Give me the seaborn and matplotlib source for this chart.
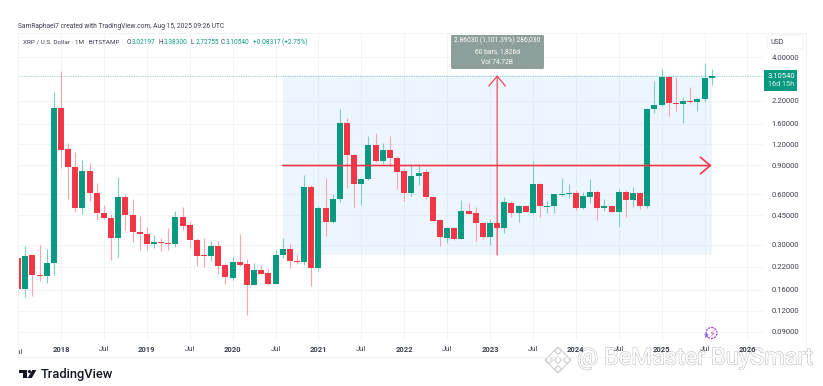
import numpy as np
import pandas as pd
import matplotlib
matplotlib.use("Agg")
import matplotlib.pyplot as plt
import seaborn as sns
from matplotlib.patches import Rectangle, FancyBboxPatch, Polygon, Circle
from matplotlib.ticker import NullLocator
from matplotlib.transforms import Bbox, blended_transform_factory
import matplotlib.patheffects as pe

# months counted from Jan 2018, first bar is Jul 2017
months = list(range(-6, 92))

open_prices = [
    .248, .162, .258, .197, .195, .233,
    1.98, 1.12, .88, .496, .83, .609, .462, .433, .33, .579, .45, .356,
    .347, .303, .311, .307, .304, .438, .391, .319, .258, .256, .296, .225,
    .19, .236, .228, .172, .21, .201, .174, .258, .281, .24, .236, .663,
    .2175, .496, .411, .566, 1.605, 1.04, .696, .744, 1.184, .949, 1.11, .994,
    .827, .609, .775, .819, .579, .421, .33, .377, .326, .477, .464, .405,
    .333, .405, .376, .531, .466, .512, .466, .696, .507, .51, .595, .604,
    .615, .50, .581, .623, .498, .512, .473, .623, .558, .609, .51, 1.948,
    2.068, 3.03, 2.134, 2.088, 2.186, 2.165, 2.238, 3.022,
]
high_prices = [
    .25, .294, .26, .297, .281, 2.48,
    3.31, 1.22, 1.08, .966, .923, .70, .519, .458, .761, .604, .563, .447,
    .381, .342, .328, .378, .479, .503, .415, .327, .327, .316, .316, .231,
    .252, .347, .245, .233, .225, .2125, .278, .327, .303, .263, .786, .684,
    .51, .751, .604, 1.95, 1.735, 1.05, .75, 1.346, 1.397, 1.227, 1.346, 1.02,
    .862, .914, .914, .849, .585, .425, .38, .38, .556, .531, .507, .41,
    .43, .41, .582, .548, .52, .515, .95, .70, .55, .605, .751, .694,
    .635, .623, .744, .638, .563, .515, .647, .638, .665, .623, 1.97, 2.89,
    3.40, 3.05, 3.03, 2.32, 2.64, 2.32, 3.68, 3.383,
]
low_prices = [
    .162, .146, .147, .182, .177, .197,
    .869, .561, .473, .456, .548, .421, .425, .242, .254, .367, .31, .278,
    .278, .285, .275, .278, .289, .367, .285, .224, .221, .24, .20, .174,
    .184, .223, .113, .171, .199, .172, .173, .25, .2175, .229, .227, .169,
    .208, .339, .405, .543, .654, .507, .519, .735, .94, .923, .889, .647,
    .546, .59, .684, .563, .413, .292, .306, .32, .322, .455, .316, .324,
    .299, .372, .35, .437, .408, .47, .46, .437, .462, .462, .59, .575,
    .484, .489, .536, .421, .477, .462, .384, .437, .503, .489, .496, 1.843,
    2.05, 1.776, 1.903, 1.605, 2.088, 1.903, 2.165, 2.728,
]
close_prices = [
    .162, .257, .198, .195, .233, 1.98,
    1.11, .88, .496, .83, .609, .466, .433, .33, .579, .45, .356, .347,
    .303, .311, .308, .304, .438, .387, .319, .256, .256, .296, .223, .191,
    .236, .226, .172, .2115, .2, .174, .258, .281, .24, .236, .663, .2175,
    .496, .411, .566, 1.605, 1.036, .696, .744, 1.184, .949, 1.11, .994, .819,
    .609, .778, .808, .579, .417, .332, .377, .326, .477, .458, .405, .333,
    .405, .376, .539, .466, .512, .473, .694, .51, .514, .601, .604, .615,
    .50, .587, .623, .498, .512, .473, .623, .558, .609, .51, 1.948, 2.068,
    3.03, 2.134, 2.088, 2.186, 2.165, 2.238, 3.02, 3.105,
]

price_ticks = [4.0, 2.2, 1.6, 1.2, 0.9, 0.6, 0.45, 0.3, 0.22, 0.16, 0.12, 0.09]
jul_ticks = [6, 18, 30, 42, 54, 66, 78, 90]
year_ticks = [0, 12, 24, 36, 48, 60, 72, 84, 96]
year_labels = ["2018", "2019", "2020", "2021", "2022", "2023", "2024", "2025", "2026"]

last_price = 3.1054
range_low, range_high = 0.2597, 3.12
range_start, range_end = 31, 91
mid_price = 0.895
mid_month = 61

GREEN = "#089981"
RED = "#f23645"
GREEN_WICK = "#7fcdbf"
RED_WICK = "#f9a5ad"
GREY_TEXT = "#3a3f4b"
W, H = 823, 386

sns.set_theme(style="white")
plt.rcParams["font.family"] = ["Roboto", "DejaVu Sans"]

df = pd.DataFrame({"month": months, "o": open_prices, "h": high_prices,
                   "l": low_prices, "c": close_prices})
df["dir"] = np.where(df["c"] >= df["o"], "up", "down")

# long tables, one line per candle
wicks = df.melt(id_vars=["month", "dir"], value_vars=["h", "l"], value_name="price")
bodies = df.melt(id_vars=["month", "dir"], value_vars=["o", "c"], value_name="price")

fig = plt.figure(figsize=(W / 100, H / 100), dpi=100, facecolor="white")

# watermark goes under the chart, its time labels stay readable on top of it
wm = fig.add_axes([0, 0, 1, 1], zorder=0)
wm.set_xlim(0, W)
wm.set_ylim(H, 0)
wm.axis("off")
outline = [pe.withStroke(linewidth=0.8, foreground="#bdbdbd")]
wm.text(577, 358, "@ BeMaster BuySmart", fontsize=17, color="white", va="center", ha="left",
        path_effects=outline)
for cx, cy, r in [(558, 360, 13), (558, 351, 3.5), (558, 369, 3.5), (549, 360, 3.5), (567, 360, 3.5), (558, 360, 3.5)]:
    wm.add_patch(Polygon([(cx, cy - r), (cx + r, cy), (cx, cy + r), (cx - r, cy)],
                         facecolor="white", edgecolor="#cfcfcf", lw=0.8))

ax = fig.add_axes([18.5 / W, 1 - 341 / H, (763 - 18.5) / W, (341 - 33) / H], zorder=5)
ax.set_yscale("log")

sns.lineplot(data=wicks, x="month", y="price", hue="dir", units="month", estimator=None,
             palette={"up": GREEN_WICK, "down": RED_WICK}, legend=False, ax=ax,
             linewidth=0.8, solid_capstyle="butt", zorder=3)
sns.lineplot(data=bodies, x="month", y="price", hue="dir", units="month", estimator=None,
             palette={"up": GREEN, "down": RED}, legend=False, ax=ax,
             linewidth=4.3, solid_capstyle="butt", zorder=4)

ax.set_xlim(-5.944, 98.18)
ax.set_ylim(0.079, 5.598)
ax.set_xlabel("")
ax.set_ylabel("")
for s in ax.spines.values():
    s.set_visible(False)

ax.yaxis.tick_right()
ax.set_yticks(price_ticks, labels=[f"{p:.5f}" for p in price_ticks])
ax.yaxis.set_minor_locator(NullLocator())
ax.tick_params(axis="y", length=0, pad=6, labelsize=5.5, labelcolor=GREY_TEXT)
ax.set_xticks(jul_ticks + year_ticks,
              labels=["Jul"] * len(jul_ticks) + year_labels)
ax.tick_params(axis="x", length=0, pad=3.5, labelsize=5.5, labelcolor=GREY_TEXT)
for lab in ax.get_xticklabels():
    if lab.get_text() != "Jul":
        lab.set_fontweight("bold")
ax.grid(True, color="#f3f4f6", linewidth=0.7)
ax.set_axisbelow(True)

# first Jul label is cut by the pane edge
first = ax.text(-6, -0.025, "Jul", fontsize=5.5, color=GREY_TEXT, ha="center", va="top",
                transform=blended_transform_factory(ax.transData, ax.transAxes))
first.set_clip_on(True)
first.set_clip_box(Bbox([[18.5, 0], [W, H]]))

# price range tool
ax.add_patch(Rectangle((range_start, range_low), range_end - range_start, range_high - range_low,
                       facecolor="#2196f3", alpha=0.08, edgecolor="none", zorder=1))
ax.axhline(last_price, color=GREEN, linestyle=(0, (1, 1.4)), linewidth=0.7, alpha=0.5, zorder=2)
ax.annotate("", xy=(range_end, mid_price), xytext=(range_start, mid_price), zorder=5,
            arrowprops=dict(arrowstyle="->,head_length=0.9,head_width=0.75", color=RED, lw=1.2,
                            mutation_scale=8, shrinkA=0, shrinkB=0))
ax.annotate("", xy=(mid_month, range_high), xytext=(mid_month, range_low), zorder=5,
            arrowprops=dict(arrowstyle="->,head_length=0.9,head_width=0.75", color=RED, lw=0.8,
                            mutation_scale=8, shrinkA=0, shrinkB=0))

# everything around the chart is placed in pixels
ov = fig.add_axes([0, 0, 1, 1], zorder=10)
ov.set_xlim(0, W)
ov.set_ylim(H, 0)
ov.axis("off")
ov.patch.set_alpha(0)

# pane outline
ov.add_patch(Rectangle((18.5, 33), 806.5 - 18.5, 357 - 33, fill=False, edgecolor="#f1f2f4", lw=0.7))

ov.text(18.5, 27, "SamRaphael7 created with TradingView.com, Aug 15, 2025 09:26 UTC",
        fontsize=4.75, color=GREY_TEXT, va="center")
ov.text(23, 42, "XRP / U.S. Dollar \u00b7 1M \u00b7 BITSTAMP", fontsize=4.6, color=GREY_TEXT, va="center")
for x, k, v in [(127, "O", "3.02197"), (159, "H", "3.38300"), (191, "L", "2.72755"), (221, "C", "3.10540")]:
    ov.text(x, 42, k, fontsize=4.7, color=GREY_TEXT, va="center")
    ov.text(x + 4.5, 42, v, fontsize=4.7, color=GREEN, va="center")
ov.text(253, 42, "+0.08317 (+2.75%)", fontsize=4.7, color=GREEN, va="center")

# measure label
ov.add_patch(FancyBboxPatch((451, 35), 93, 34, boxstyle="round,pad=0,rounding_size=1.5",
                            facecolor="#8d9f9a", edgecolor="none"))
for y, t in [(40, "2.86030 (1,101.39%) 286,030"), (52, "60 bars, 1,826d"), (63, "Vol 74.72B")]:
    ov.text(497.5, y, t, fontsize=4.8, color="white", ha="center", va="center")

# last price tag and currency box
ov.add_patch(Rectangle((764.5, 70), 33, 20.5, facecolor=GREEN, edgecolor="none"))
ov.text(781, 75.5, "3.10540", fontsize=5.5, color="white", ha="center", va="center")
ov.text(781, 84.5, "16d 15h", fontsize=5.2, color="#d5efe9", ha="center", va="center")
ov.add_patch(FancyBboxPatch((767, 35), 36, 14, boxstyle="round,pad=0,rounding_size=2",
                            facecolor="white", edgecolor="#eef0f2", lw=0.6))
ov.text(771, 42, "USD", fontsize=5, color=GREY_TEXT, va="center")

# small purple badge
ov.add_patch(Circle((711.5, 333), 5.5, fill=False, edgecolor="#a63fd0", lw=0.8, linestyle=(0, (2, 0.8))))
ov.plot([706.5], [334.5], marker="*", ms=5, color="#7c5cf5", mec="none")
ov.plot([712], [332.5], marker="$\u26a1$", ms=5, color="#d649e0", mec="none")

# TradingView logo
ov.add_patch(Polygon([(19.5, 370), (27, 370), (27, 378), (23.3, 378), (23.3, 373.2), (19.5, 373.2)],
                     facecolor="#131722", edgecolor="none"))
ov.add_patch(Circle((29.5, 371.6), 1.6, facecolor="#131722", edgecolor="none"))
ov.add_patch(Polygon([(32.3, 370), (36.4, 370), (31.8, 378), (27.6, 378)], facecolor="#131722", edgecolor="none"))
ov.text(40.5, 374.3, "TradingView", fontsize=9.3, color="#131722", va="center", fontweight="medium")

ax.patch.set_alpha(0)
fig.savefig("out.png", dpi=100)
